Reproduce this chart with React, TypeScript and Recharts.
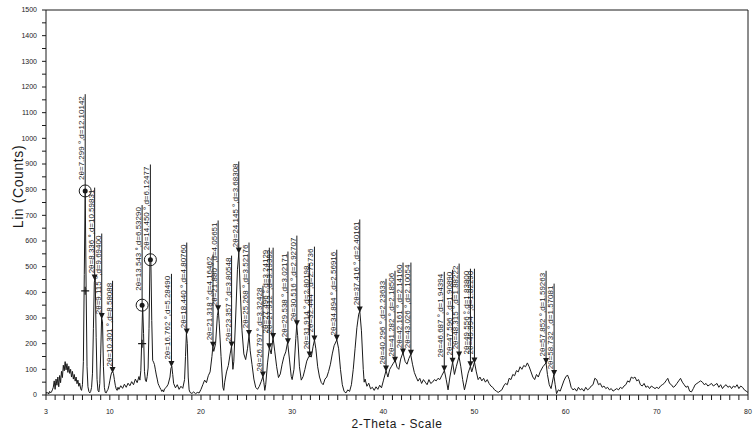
import React from "react";
import {
  ComposedChart,
  Line,
  XAxis,
  YAxis,
  ReferenceLine,
  ReferenceDot,
} from "recharts";

// scan, [2-theta, counts]
const scanLow: [number, number][] = [
  [3.0, 12], [3.1, 6], [3.2, 10], [3.3, 4], [3.4, 14], [3.5, 8], [3.6, 12], [3.7, 20],
  [3.8, 30], [3.9, 55], [4.0, 22], [4.1, 62], [4.2, 38], [4.3, 70], [4.4, 32], [4.5, 76],
  [4.6, 48], [4.7, 92], [4.8, 68], [4.9, 116], [5.0, 94], [5.1, 130], [5.2, 98], [5.3, 122],
  [5.4, 88], [5.5, 112], [5.6, 84], [5.7, 100], [5.8, 70], [5.9, 92], [6.0, 62], [6.1, 80],
  [6.2, 54], [6.3, 70], [6.4, 44], [6.5, 58], [6.6, 34], [6.7, 46], [6.8, 24], [6.9, 18],
  [7.0, 40], [7.1, 130], [7.2, 470], [7.3, 795], [7.4, 420], [7.5, 110], [7.6, 32], [7.7, 14],
  [7.8, 8], [7.9, 14], [8.0, 30], [8.1, 85], [8.2, 260], [8.3, 440], [8.4, 455], [8.5, 225],
  [8.6, 60], [8.7, 18], [8.8, 12], [8.9, 45], [9.0, 160], [9.1, 300], [9.2, 285], [9.3, 110],
  [9.4, 30], [9.5, 10], [9.6, 8], [9.7, 16], [9.8, 22], [9.9, 36], [10.0, 55], [10.1, 74],
  [10.2, 88], [10.3, 92], [10.4, 84], [10.5, 60], [10.6, 38], [10.7, 24], [10.8, 18], [10.9, 30],
  [11.0, 22], [11.2, 36], [11.4, 26], [11.6, 42], [11.8, 30], [12.0, 46], [12.2, 36], [12.4, 52],
  [12.6, 40], [12.8, 62], [13.0, 48],
];

const scanMid: [number, number][] = [
  [13.2, 72], [13.3, 58], [13.4, 95], [13.5, 210], [13.6, 350], [13.7, 240], [13.8, 92], [13.9, 58],
  [14.0, 52], [14.1, 72], [14.2, 105], [14.3, 260], [14.4, 520], [14.5, 530], [14.6, 290], [14.7, 135],
  [14.8, 128], [14.9, 118], [15.0, 98], [15.1, 78], [15.2, 62], [15.3, 44], [15.4, 36], [15.5, 28],
  [15.6, 22], [15.7, 14], [15.8, 20], [15.9, 12], [16.0, 24], [16.2, 30], [16.4, 42], [16.6, 70],
  [16.7, 104], [16.8, 112], [16.9, 80], [17.0, 45], [17.2, 28], [17.4, 40], [17.6, 22], [17.8, 34],
  [18.0, 26], [18.2, 60], [18.3, 150], [18.4, 240], [18.5, 200], [18.6, 70], [18.7, 20], [18.8, 10],
  [19.0, 6], [19.2, 12], [19.4, 5], [19.6, 10], [19.8, 8], [20.0, 22], [20.2, 40], [20.4, 58],
  [20.6, 48], [20.8, 75], [21.0, 90], [21.2, 150], [21.3, 188], [21.4, 170], [21.6, 200], [21.8, 310],
  [21.9, 330], [22.0, 280], [22.2, 150], [22.4, 30], [22.5, 18], [22.6, 50], [22.8, 90], [23.0, 115],
  [23.2, 160], [23.35, 190], [23.5, 100], [23.6, 130], [23.8, 300], [24.0, 490], [24.15, 555], [24.3, 410],
  [24.5, 250], [24.7, 160], [24.9, 138], [25.1, 180], [25.27, 234], [25.4, 172], [25.6, 118], [25.8, 62],
  [26.0, 30], [26.2, 22], [26.4, 34], [26.6, 52], [26.8, 72], [26.9, 48], [27.0, 18], [27.1, 40],
  [27.3, 125], [27.5, 185], [27.7, 160], [27.9, 225], [28.1, 168], [28.3, 110], [28.5, 68], [28.7, 82],
  [28.9, 120], [29.1, 150], [29.3, 168], [29.5, 205], [29.7, 140], [29.9, 72], [30.0, 60], [30.2, 100],
  [30.4, 220], [30.5, 272], [30.6, 232], [30.8, 110], [31.0, 58], [31.2, 72], [31.4, 100], [31.6, 132],
  [31.8, 148], [31.9, 152], [32.1, 148], [32.3, 190], [32.45, 214], [32.6, 180], [32.8, 110], [33.0, 70],
  [33.2, 48], [33.4, 40], [33.6, 62], [33.8, 70], [34.0, 92], [34.2, 120], [34.4, 160], [34.6, 192],
  [34.9, 215], [35.1, 180], [35.3, 100], [35.5, 40], [35.7, 14], [35.9, 8], [36.1, 20], [36.3, 14],
  [36.5, 40], [36.7, 100], [36.9, 180], [37.1, 262], [37.3, 315], [37.42, 326], [37.6, 250], [37.8, 100],
  [37.9, 50], [38.0, 62], [38.2, 34], [38.4, 46], [38.6, 24], [38.8, 30], [39.0, 18], [39.2, 32],
  [39.4, 22], [39.6, 38], [39.8, 28], [40.0, 55], [40.3, 95], [40.5, 70], [40.7, 100], [40.9, 112],
  [41.1, 124], [41.3, 135], [41.5, 108], [41.7, 100], [41.9, 140], [42.15, 165], [42.4, 130], [42.6, 120],
  [42.8, 142], [43.0, 158], [43.2, 120], [43.4, 88], [43.6, 70], [43.8, 54],
];

const scanHigh: [number, number][] = [
  [44.0, 65], [44.2, 45], [44.4, 60], [44.6, 50], [44.8, 40], [45.0, 60], [45.2, 45], [45.4, 50],
  [45.6, 60], [45.8, 55], [46.0, 65], [46.2, 60], [46.4, 75], [46.7, 95], [46.9, 60], [47.1, 20],
  [47.3, 70], [47.6, 128], [47.8, 80], [48.0, 110], [48.3, 150], [48.5, 110], [48.7, 60], [48.9, 20],
  [49.1, 50], [49.3, 85], [49.55, 112], [49.7, 90], [50.0, 128], [50.2, 90], [50.4, 60], [50.6, 70],
  [50.8, 55], [51.0, 65], [51.2, 50], [51.4, 60], [51.6, 45], [51.8, 35], [52.0, 30], [52.2, 20],
  [52.4, 15], [52.6, 10], [52.8, 15], [53.0, 20], [53.2, 35], [53.4, 45], [53.6, 40], [53.8, 65],
  [54.0, 60], [54.2, 80], [54.4, 75], [54.6, 95], [54.8, 90], [55.0, 110], [55.2, 100], [55.4, 115],
  [55.6, 110], [55.8, 125], [56.0, 110], [56.2, 90], [56.4, 70], [56.6, 60], [56.8, 80], [57.0, 70],
  [57.2, 90], [57.5, 110], [57.85, 125], [58.0, 80], [58.2, 40], [58.4, 25], [58.7, 78], [58.85, 40],
  [59.0, 5], [59.2, 20], [59.4, 15], [59.6, 35], [59.8, 55], [60.0, 70], [60.2, 78], [60.4, 60],
  [60.6, 30], [60.8, 20], [61.0, 25], [61.2, 15], [61.4, 30], [61.6, 20], [61.8, 25], [62.0, 15],
  [62.2, 30], [62.4, 20], [62.6, 25], [62.8, 35], [63.0, 40], [63.2, 65], [63.4, 60], [63.6, 40],
  [63.8, 45], [64.0, 30], [64.2, 35], [64.4, 25], [64.6, 30], [64.8, 20], [65.0, 25], [65.2, 15],
  [65.4, 20], [65.6, 25], [65.8, 20], [66.0, 30], [66.2, 25], [66.4, 35], [66.6, 40], [66.8, 55],
  [67.0, 50], [67.2, 70], [67.4, 65], [67.6, 70], [67.8, 55], [68.0, 60], [68.2, 40], [68.4, 35],
  [68.6, 45], [68.8, 30], [69.0, 35], [69.2, 25], [69.4, 35], [69.6, 30], [69.8, 25], [70.0, 30],
  [70.2, 25], [70.4, 35], [70.6, 40], [70.8, 45], [71.0, 55], [71.2, 65], [71.4, 45], [71.6, 40],
  [71.8, 30], [72.0, 35], [72.2, 45], [72.4, 55], [72.6, 65], [72.8, 50], [73.0, 40], [73.2, 30],
  [73.4, 35], [73.6, 15], [73.8, 12], [74.0, 25], [74.2, 40], [74.4, 45], [74.6, 50], [74.8, 55],
  [75.0, 50], [75.2, 40], [75.4, 45], [75.6, 35], [75.8, 40], [76.0, 45], [76.2, 35], [76.4, 40],
  [76.6, 45], [76.8, 30], [77.0, 40], [77.2, 25], [77.4, 35], [77.6, 40], [77.8, 30], [78.0, 35],
  [78.2, 25], [78.4, 35], [78.6, 30], [78.8, 40], [79.0, 25], [79.2, 35], [79.4, 30], [79.6, 20],
  [79.8, 15], [80.0, 10],
];

// peak-search results
const peakAngles = [
  7.299, 8.336, 9.115, 10.301, 13.543, 14.45, 16.762, 18.44, 21.318, 21.88, 23.357,
  24.145, 25.268, 26.797, 27.496, 27.912, 29.538, 30.516, 31.914, 32.444, 34.894,
  37.416, 40.296, 41.282, 42.161, 43.026, 46.687, 47.596, 48.315, 49.556, 49.994,
  57.852, 58.732,
];
const peakD = [
  "12.10142", "10.59831", "9.69400", "8.58088", "6.53290", "6.12477", "5.28490", "4.80760",
  "4.16462", "4.05651", "3.80548", "3.68308", "3.52176", "3.32428", "3.24129", "3.19392",
  "3.02171", "2.92707", "2.80198", "2.75736", "2.56916", "2.40161", "2.23633", "2.18506",
  "2.14160", "2.10054", "1.94394", "1.90890", "1.88222", "1.83800", "1.82290", "1.59263",
  "1.57081",
];
const peakCounts = [
  795, 450, 300, 90, 350, 527, 113, 240, 188, 330, 189, 555, 234, 72, 182, 222, 202, 272,
  150, 212, 215, 325, 95, 130, 162, 157, 95, 126, 150, 112, 127, 125, 78,
];
const peakTops = [
  1172, 808, 629, 445, 740, 898, 472, 594, 547, 680, 543, 910, 594, 426, 574, 574, 559, 621,
  512, 578, 566, 684, 453, 484, 516, 516, 480, 488, 512, 492, 492, 484, 434,
];
const circledPeaks = [7.299, 13.543, 14.45];
const crossMarks: [number, number][] = [[7.299, 406], [13.543, 200]];

const yTicks = Array.from({ length: 31 }, (_, i) => i * 50);
const xTicks = Array.from({ length: 78 }, (_, i) => i + 3);
const xLabels = [3, 10, 20, 30, 40, 50, 60, 70, 80];

const pattern = [...scanLow, ...scanMid, ...scanHigh].map(([t, c]) => ({ t, c }));

const FONT = "'Liberation Sans', Arial, sans-serif";
const INK = "#1a1a1a";

function PeakLabel(props: any) {
  const vb = props.viewBox;
  if (!vb) return null;
  const x = vb.x;
  const top = vb.y;
  const bottom = vb.y + vb.height;
  const tx = x - 1;
  const ty = top + 2;
  return (
    <g>
      <text
        x={tx}
        y={ty}
        transform={`rotate(-90 ${tx} ${ty})`}
        textAnchor="end"
        fontSize={8}
        fontFamily={FONT}
        fill={INK}
      >
        {props.text}
      </text>
      {props.circle ? (
        <g>
          <circle cx={x} cy={bottom} r={6} fill="none" stroke={INK} strokeWidth={1} />
          <circle cx={x} cy={bottom} r={2.5} fill={INK} />
        </g>
      ) : (
        <path d={`M${x - 3},${bottom - 5}L${x + 3},${bottom - 5}L${x},${bottom + 1}Z`} fill={INK} />
      )}
    </g>
  );
}

function Cross(props: any) {
  const { cx, cy } = props;
  return (
    <path
      d={`M${cx - 4},${cy}L${cx + 4},${cy}M${cx},${cy - 4}L${cx},${cy + 4}`}
      stroke={INK}
      strokeWidth={1.2}
    />
  );
}

function YTitle(props: any) {
  const vb = props.viewBox;
  if (!vb) return null;
  const x = vb.x + 18;
  const y = vb.y + vb.height / 2 - 16;
  return (
    <text
      x={x}
      y={y}
      transform={`rotate(-90 ${x} ${y})`}
      textAnchor="middle"
      dominantBaseline="central"
      fontSize={14}
      letterSpacing={0.6}
      fontFamily={FONT}
      fill={INK}
    >
      Lin (Counts)
    </text>
  );
}

export default function App() {
  const tickStyle = { fontSize: 7, fill: INK, fontFamily: FONT };
  return (
    <div style={{ position: "absolute", left: 0, top: 0, background: "#fff" }}>
      <ComposedChart
        width={755}
        height={439}
        data={pattern}
        margin={{ top: 0, right: 0, bottom: 0, left: 0 }}
      >
        <XAxis
          dataKey="t"
          type="number"
          domain={[3, 80]}
          ticks={xTicks}
          interval={0}
          height={44}
          tick={tickStyle}
          tickSize={5}
          tickMargin={9}
          tickFormatter={(v: number) => (xLabels.includes(v) ? String(v) : "")}
          stroke={INK}
          allowDataOverflow
          label={{
            value: "2-Theta - Scale",
            position: "insideBottom",
            offset: 11,
            fontSize: 12,
            fill: INK,
            fontFamily: FONT,
            letterSpacing: 0.6,
          }}
        />
        <XAxis
          xAxisId="top"
          orientation="top"
          dataKey="t"
          type="number"
          domain={[3, 80]}
          ticks={xTicks}
          interval={0}
          height={10}
          tick={false}
          tickSize={5}
          stroke={INK}
          allowDataOverflow
        />
        <YAxis
          type="number"
          domain={[0, 1500]}
          ticks={yTicks}
          interval={0}
          width={46}
          tick={tickStyle}
          tickSize={4}
          tickMargin={5}
          tickFormatter={(v: number) => (v % 100 === 0 ? String(v) : "")}
          stroke={INK}
          allowDataOverflow
          label={(p: any) => <YTitle {...p} />}
        />
        <YAxis
          yAxisId="right"
          orientation="right"
          type="number"
          domain={[0, 1500]}
          ticks={yTicks}
          interval={0}
          width={7}
          tick={false}
          tickSize={4}
          stroke={INK}
          allowDataOverflow
        />
        <Line
          type="linear"
          dataKey="c"
          stroke={INK}
          strokeWidth={1}
          dot={false}
          isAnimationActive={false}
        />
        {peakAngles.map((t, i) => (
          <ReferenceLine
            key={`pk-${t}`}
            segment={[
              { x: t, y: peakCounts[i] },
              { x: t, y: peakTops[i] },
            ]}
            stroke={INK}
            strokeWidth={1}
            label={(p: any) => (
              <PeakLabel
                {...p}
                text={`2θ=${t.toFixed(3)} °,d=${peakD[i]}`}
                circle={circledPeaks.includes(t)}
              />
            )}
          />
        ))}
        {crossMarks.map(([t, c]) => (
          <ReferenceDot
            key={`cx-${t}`}
            x={t}
            y={c}
            r={4}
            shape={(p: any) => <Cross {...p} />}
          />
        ))}
      </ComposedChart>
    </div>
  );
}
